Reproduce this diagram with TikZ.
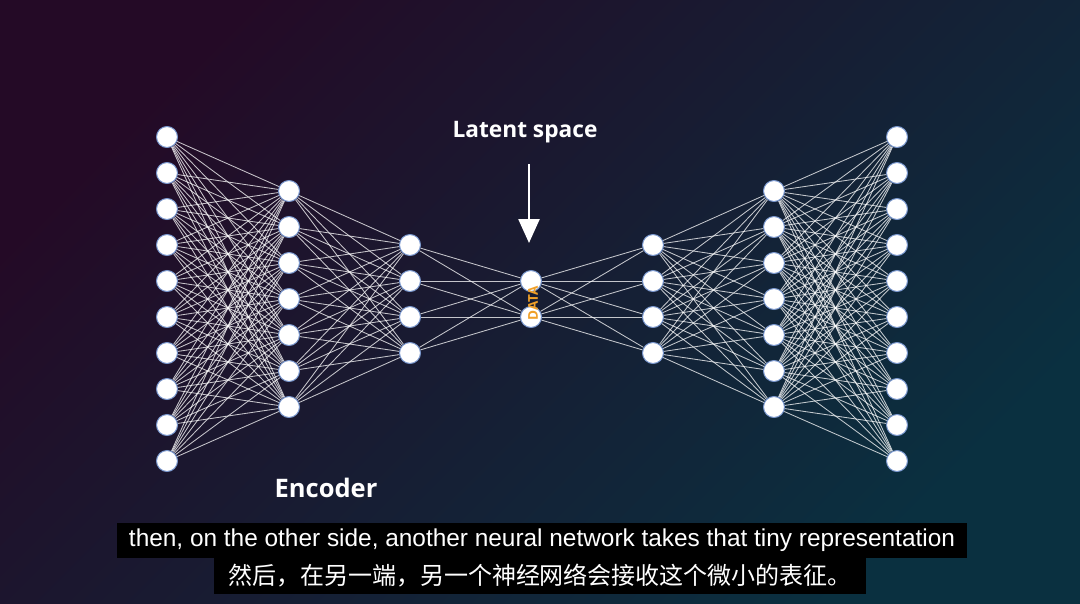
\documentclass[tikz,border=0pt]{standalone}
\usepackage{fontspec}
\setmainfont{Liberation Sans}
\newfontfamily\headfont{Open Sans}
\newfontfamily\cjk{Noto Sans CJK SC}
\usepackage{tikz}
\usetikzlibrary{arrows.meta}
\definecolor{bgtop}{RGB}{36, 10, 38}
\definecolor{bgmid}{RGB}{19, 20, 46}
\definecolor{bgbot}{RGB}{10, 48, 64}
\definecolor{glow}{RGB}{120, 150, 205}
\definecolor{data}{RGB}{240, 160, 40}
\pgfdeclarelayer{background}
\pgfdeclarelayer{links}
\pgfsetlayers{background, links, main}

\begin{document}
\begin{tikzpicture}[x=1pt, y=-1pt, thick,
  neuron/.style={circle, fill=white, draw=glow, line width=1pt, minimum size=21pt, inner sep=0pt},
  link/.style={draw=white, draw opacity=0.75, line width=0.85pt},
  caption/.style={fill=black, text=white, inner sep=0pt},
  title/.style={text=white, font=\headfont\bfseries\fontsize{#1}{#1}\selectfont}]

  \useasboundingbox (0, 0) rectangle (1080, 603);

  % Background
  \begin{pgfonlayer}{background}
    \shade[shading=axis, top color=bgtop, middle color=bgmid, bottom color=bgbot, shading angle=45] (0, 0) rectangle (1080, 603);
  \end{pgfonlayer}

  % Neurons
  \foreach \l/\x/\n in {1/167/10, 2/289/7, 3/410/4, 4/531/2, 5/653/4, 6/774/7, 7/897/10} {
    \foreach \i in {1, ..., \n} {
      \node[neuron] (n\l-\i) at (\x, {299 + (\i - (\n + 1) / 2) * 36}) {};
    }
  }

  % Links
  \begin{pgfonlayer}{links}
    \foreach \l/\n/\m in {1/10/7, 2/7/4, 3/4/2, 4/2/4, 5/4/7, 6/7/10} {
      \pgfmathtruncatemacro{\k}{\l + 1}
      \foreach \i in {1, ..., \n} {
        \foreach \j in {1, ..., \m} {
          \draw[link] (n\l-\i) -- (n\k-\j);
        }
      }
    }
  \end{pgfonlayer}

  % Latent space
  \node[title=22.7] (latent) at (525, 132) {Latent space};
  \coordinate (arrowtop) at (529, 164);
  \coordinate (arrowtip) at (529, 243);
  \draw[white, line width=2.5pt, -{Triangle[width=21pt, length=24pt]}] (arrowtop) -- (arrowtip);
  \node[rotate=90, text=data, font=\headfont\bfseries\fontsize{13.5}{13.5}\selectfont] (data) at (533, 303) {DATA};

  % Encoder
  \node[title=25.5] (encoder) at (326, 488) {Encoder};

  % Subtitles
  \node[caption, minimum width=850pt, minimum height=35pt, font=\fontsize{24.4}{28}\selectfont] (sub1) at (542, 540.5) {then, on the other side, another neural network takes that tiny representation};
  \node[caption, minimum width=652pt, minimum height=36pt, font=\cjk\fontsize{24}{28}\selectfont] (sub2) at (540, 576) {然后，在另一端，另一个神经网络会接收这个微小的表征。};

\end{tikzpicture}
\end{document}
